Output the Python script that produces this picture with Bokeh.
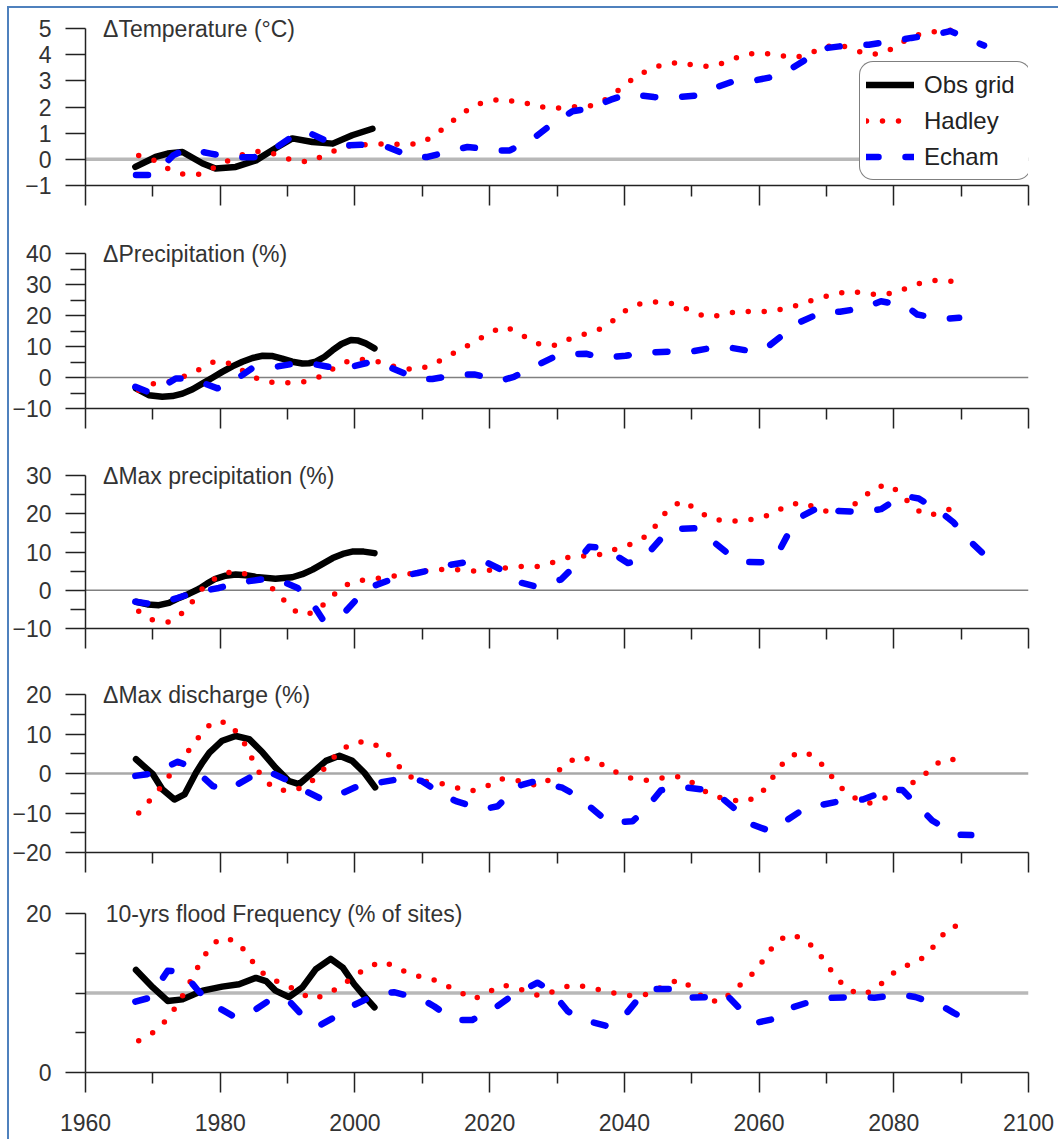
from bokeh.plotting import figure
from bokeh.models import (Range1d, FixedTicker, Label, Span, Legend, LegendItem, Column,
                          CustomLabelingPolicy)
from bokeh.embed import file_html
from bokeh.resources import INLINE

FONT = "Liberation Sans"

# ---------------- data (year, value) ----------------
x_major_ticks = [1960, 1980, 2000, 2020, 2040, 2060, 2080, 2100]
x_minor_ticks = [1970, 1990, 2010, 2030, 2050, 2070, 2090]

titles = ["\u0394Temperature (\u00b0C)", "\u0394Precipitation (%)", "\u0394Max precipitation (%)",
          "\u0394Max discharge (%)", "10-yrs flood Frequency (% of sites)"]
series_names = ["Obs grid", "Hadley", "Echam"]

obs_temp = [(1967.4, -0.29), (1970.4, 0.09), (1972.2, 0.22), (1974.4, 0.28), (1977.4, -0.16), (1979.3, -0.35),
            (1982.3, -0.29), (1985.3, -0.04), (1988.2, 0.42), (1990.7, 0.8), (1993.7, 0.66), (1996.7, 0.6),
            (1999.6, 0.92), (2002.6, 1.17)]
hadley_temp = [(1967.9, 0.15), (1970.2, -0.04), (1972.3, -0.36), (1974.5, -0.57), (1977, -0.57), (1979.3, -0.29),
               (1981.5, -0.01), (1983.7, 0.22), (1986, 0.32), (1988.4, 0.19), (1990.7, -0.04), (1993.2, -0.1),
               (1995.4, 0.15), (1997.7, 0.41), (2000, 0.56), (2002.6, 0.56), (2004.9, 0.6), (2007.3, 0.56),
               (2009.6, 0.6), (2011.9, 0.92), (2013.7, 1.3), (2015.7, 1.7), (2017.7, 2.06), (2020, 2.25),
               (2022.4, 2.29), (2024.6, 2.13), (2026.4, 2.13), (2028.3, 1.96), (2030.7, 1.96), (2033.1, 2.02),
               (2035.5, 2.06), (2037.6, 2.34), (2039.6, 2.74), (2041.5, 3.12), (2043.7, 3.44), (2046, 3.65),
               (2048.4, 3.71), (2050.7, 3.56), (2053.1, 3.55), (2055.5, 3.75), (2057.7, 4.0), (2060.2, 4.07),
               (2062.5, 4.0), (2065, 3.88), (2067.3, 4.0), (2069.4, 4.29), (2071.9, 4.38), (2074.3, 4.16),
               (2076.6, 4.0), (2078.9, 4.1), (2080.8, 4.42), (2083.1, 4.73), (2085.5, 4.86), (2087.8, 4.92),
               (2090.3, 4.96)]
echam_temp = [(1967.5, -0.6), (1970.2, -0.6), (1973, 0.15), (1975, 0.4), (1978.6, 0.22), (1981.4, 0.08),
              (1985, 0.08), (1987.3, 0.27), (1990.5, 0.84), (1992.5, 1.1), (1996.2, 0.65), (1998.4, 0.53),
              (2002.3, 0.57), (2004.8, 0.47), (2008.5, 0.09), (2010.8, 0.09), (2014.5, 0.34), (2016.7, 0.47),
              (2021.5, 0.34), (2023, 0.34), (2027.1, 0.92), (2029, 1.3), (2032.3, 1.84), (2034.8, 1.94),
              (2038, 2.28), (2040.5, 2.5), (2044.4, 2.38), (2046.6, 2.34), (2050.6, 2.44), (2052.6, 2.66),
              (2056.3, 2.99), (2058.8, 2.99), (2062.4, 3.17), (2064.5, 3.42), (2067.9, 3.97), (2070.2, 4.26),
              (2073.9, 4.38), (2076.3, 4.38), (2080.3, 4.54), (2082.6, 4.64), (2086.2, 4.77), (2088.4, 4.9),
              (2091.9, 4.51), (2093.4, 4.35)]

obs_precip = [(1967.5, -3.5), (1969.4, -5.7), (1971.4, -6.2), (1972.9, -6.0), (1974.4, -5.2), (1975.9, -3.8),
              (1977.4, -1.9), (1978.9, 0.0), (1980.3, 1.8), (1981.8, 3.6), (1983.3, 5.1), (1984.8, 6.3),
              (1986.3, 7.0), (1987.8, 6.9), (1989.2, 6.1), (1990.7, 5.1), (1992.2, 4.5), (1993.2, 4.6),
              (1994.2, 5.1), (1995.5, 6.7), (1996.7, 8.8), (1998, 10.8), (1999.4, 12.1), (2000.5, 11.9),
              (2001.6, 11), (2002.9, 9.4)]
hadley_precip = [(1967.9, -4.1), (1970.2, -1.9), (1972.4, -1.4), (1974.7, 0.4), (1977, 2.7), (1979.2, 5.3),
                 (1981.6, 4.5), (1983.7, 1.8), (1985.9, -0.8), (1988.2, -1.7), (1990.7, -1.7), (1993.1, -1.2),
                 (1995.4, 0.8), (1997.4, 3.8), (1999.6, 5.8), (2002.1, 5.8), (2004.5, 4.5), (2006.8, 2.9),
                 (2009.3, 2.6), (2011.5, 4), (2013.6, 6.7), (2015.8, 9.2), (2018, 11.8), (2020.2, 14.7),
                 (2022.4, 16.4), (2024.5, 14), (2027.5, 10.6), (2029.9, 10.4), (2032, 12.6), (2034.4, 14.2),
                 (2036.6, 15.8), (2038.6, 18.8), (2040.6, 22.3), (2042.8, 24.1), (2045.2, 24.4), (2047.6, 23.7),
                 (2049.9, 21.5), (2052.1, 19.6), (2054.5, 20.1), (2056.9, 21.4), (2059.3, 21.2), (2061.6, 21.4),
                 (2064.1, 22.3), (2066.5, 23.9), (2068.8, 25.5), (2071.2, 26.9), (2073.6, 27.9), (2075.8, 27.1),
                 (2078.2, 26.6), (2080.6, 27.6), (2082.9, 29.8), (2085.2, 31.2), (2087.6, 31.4), (2090.1, 30.3)]
echam_precip = [(1967.4, -3), (1969.9, -5.2), (1973.4, -0.3), (1975.6, -0.3), (1979.6, -3.5), (1981.8, -1.4),
                (1984.8, 3.1), (1987.3, 3.1), (1991, 4.5), (1993.5, 4.5), (1997.4, 2.9), (1999.6, 3.5),
                (2002.5, 5.1), (2005.6, 2.9), (2009.3, -0.5), (2011.5, -0.5), (2015.4, 1), (2017.7, 1),
                (2021.6, -1), (2023.6, 0.2), (2028.3, 5.3), (2030.3, 7.4), (2034.3, 7.7), (2036.5, 6.4),
                (2040.2, 7), (2042.5, 8), (2046.4, 8.3), (2048.9, 8), (2052.6, 9.4), (2055, 9.9), (2058.8, 8.5),
                (2061, 9.4), (2064.1, 14.7), (2065.9, 17.7), (2069.5, 21.2), (2072, 21.2), (2075.6, 22.5),
                (2078.1, 24.6), (2081.8, 23.1), (2083.5, 20.3), (2087.3, 18.8), (2089.7, 19.3)]

obs_maxprecip = [(1967.5, -3), (1969.2, -3.7), (1970.9, -3.9), (1972.4, -3.3), (1973.9, -2), (1975.4, -0.9),
                 (1976.9, 0.4), (1978.1, 1.8), (1979.3, 3), (1980.8, 3.8), (1982.3, 4.1), (1983.8, 3.9),
                 (1985.3, 3.5), (1988.2, 3), (1990.7, 3.4), (1992.2, 4.2), (1993.7, 5.4), (1995.2, 6.9),
                 (1996.7, 8.4), (1998.2, 9.5), (1999.6, 10.1), (2001.3, 10.1), (2002.9, 9.7)]
hadley_maxprecip = [(1967.9, -5.5), (1970, -7.8), (1972.3, -8.3), (1974.4, -5.9), (1976, -2.7), (1977.6, 1),
                    (1979.5, 3.4), (1981.7, 4.9), (1984.2, 4.1), (1986.2, 2.2), (1988.2, -0.1), (1989.9, -3.5),
                    (1991.7, -6.3), (1994, -5.9), (1995.8, -3), (1997.7, 0.2), (1999.6, 2.3), (2002.1, 2.8),
                    (2004.6, 3.4), (2007, 4), (2009.4, 4.7), (2011.8, 5.4), (2014.2, 5.5), (2016.5, 5.2),
                    (2018.9, 4.9), (2021.4, 5.6), (2023.9, 6.2), (2027.3, 6.2), (2029.7, 7.4), (2032, 8.8),
                    (2034.4, 9), (2036.8, 9.4), (2039.1, 11), (2041.4, 12.3), (2043.6, 14.5), (2045, 17.7),
                    (2046.5, 21.2), (2048.6, 23.4), (2050.6, 21.2), (2052.7, 18.8), (2055, 18.1), (2057.4, 18.1),
                    (2059.9, 18.8), (2062.2, 20.1), (2064.2, 22.3), (2066.7, 22.9), (2068.8, 21.2), (2071.2, 20.1),
                    (2073.5, 21.6), (2075.4, 24.2), (2077.3, 27), (2079.5, 27.5), (2081.4, 24.5), (2083.2, 21.2),
                    (2085.2, 19.5), (2087.6, 20.7), (2089.8, 22.3)]
echam_maxprecip = [(1967.4, -3), (1970.2, -3.7), (1973.7, -2), (1975.9, -0.7), (1979.8, 0.6), (1982.3, 1.9),
                   (1986, 2.8), (1988.5, 2.8), (1991.5, 0.6), (1993.5, -2.9), (1995.2, -7.6), (1998.2, -6.3),
                   (2000.9, -1.1), (2002.6, 1), (2006.6, 3.6), (2009.3, 4.5), (2011.5, 5.4), (2013.7, 6.5),
                   (2018.7, 8), (2021.7, 5.4), (2023.9, 2.3), (2026.8, 1), (2030.6, 2.8), (2032.3, 5.8),
                   (2034.8, 11.4), (2037, 11), (2040.5, 7.1), (2042.8, 8.2), (2045.4, 13.4), (2046.9, 16),
                   (2050.4, 16.2), (2052.3, 14), (2055.6, 9.3), (2057.3, 7.4), (2061.2, 7.3), (2062.8, 9.7),
                   (2064.7, 16), (2066.2, 19.2), (2069.5, 22.3), (2071.8, 20.7), (2075.6, 20.5), (2078.1, 21.2),
                   (2081.3, 24.7), (2083.7, 24), (2086.9, 20.5), (2088.9, 17.7), (2091.4, 12.7), (2093.2, 9.7)]

obs_discharge = [(1967.5, 3.6), (1970, -0.2), (1971.4, -4), (1973.2, -6.6), (1974.7, -5.3), (1976.4, 0.2),
                 (1977.4, 2.9), (1978.4, 5.3), (1980.3, 8.3), (1982.3, 9.5), (1984.3, 8.7), (1986.3, 5.3),
                 (1988.2, 1.5), (1990.2, -1.9), (1991.7, -2.7), (1993.7, 0.2), (1995.7, 3.2), (1997.7, 4.5),
                 (1999.6, 3.2), (2001.4, 0.2), (2003, -3.5)]
hadley_discharge = [(1967.9, -10), (1969.6, -6.7), (1971.2, -3.4), (1972.7, 0.05), (1974.2, 3.4), (1975.7, 6.6),
                    (1977.2, 10.1), (1978.9, 13.1), (1981.2, 12.9), (1982.9, 9.5), (1984.1, 6.2), (1985.1, 2.3),
                    (1986.3, -1.2), (1988.2, -4), (1990.5, -4.5), (1992.7, -3.2), (1994.6, -0.5), (1996.3, 3),
                    (1997.9, 6), (2000.1, 8), (2002.3, 8), (2004.5, 5.7), (2006.1, 2.6), (2007.8, -0.6),
                    (2010, -1.9), (2012.4, -2.3), (2014.7, -3.4), (2017.1, -4.5), (2019.4, -3.4), (2021.5, -1.3),
                    (2023.9, -1.7), (2027.3, -3.2), (2029.3, -1.1), (2031, 2.1), (2033.1, 4.2), (2035.4, 3.4),
                    (2037.6, 1.5), (2039.7, -0.6), (2042.1, -1.7), (2044.4, -1.7), (2046.7, -0.6), (2049.1, -1.1),
                    (2051, -3.4), (2053.1, -5.7), (2055.6, -6.6), (2057.9, -7.2), (2060.1, -5.5), (2061.6, -2.1),
                    (2063, 1.5), (2064.6, 4.5), (2066.9, 5.5), (2068.9, 3.2), (2070.5, -0.2), (2072, -3.4),
                    (2074, -6), (2076.2, -7.6), (2078.5, -6.4), (2080.5, -4.5), (2082.5, -2.7), (2084.5, -0.4),
                    (2086.3, 2.5), (2088.6, 3.8), (2090.4, 0.9)]
echam_discharge = [(1967.4, -0.6), (1970, 0), (1973.7, 3), (1975.9, 1.5), (1978.9, -3.2), (1981.1, -4.2),
                   (1984.5, -0.9), (1986.8, 0.8), (1989.7, -1.5), (1991.7, -3.6), (1995.2, -6.6), (1997.7, -5.3),
                   (2001.1, -2.7), (2003.6, -2.3), (2007.6, -1.1), (2009.9, -1.9), (2013, -5.3), (2015, -7),
                   (2018.9, -9.1), (2021.2, -8.3), (2024.1, -3.2), (2026.9, -1.9), (2030.8, -3.6), (2032.8, -5.5),
                   (2036, -10), (2037.8, -12.5), (2041.2, -12.1), (2042.9, -9.5), (2045.4, -4.3), (2047.6, -3.2),
                   (2051.4, -4), (2053.7, -5.1), (2056.8, -9.5), (2058.3, -12.5), (2061.5, -14.5), (2063.5, -12.5),
                   (2066.9, -8.7), (2069.1, -8), (2072.9, -6.7), (2075.4, -6.6), (2079.1, -4.2), (2081.3, -4.2),
                   (2084.1, -9.1), (2085.7, -11.9), (2089.3, -15.5), (2091.5, -15.6)]

obs_flood = [(1967.5, 12.9), (1970, 10.7), (1972.2, 9), (1974.4, 9.2), (1977.4, 10.3), (1980.3, 10.8),
             (1982.8, 11.1), (1985.3, 11.9), (1986.8, 11.5), (1988.2, 10.3), (1990.2, 9.5), (1992.2, 10.7),
             (1994.2, 13), (1996.4, 14.3), (1998.2, 13.2), (1999.9, 11.1), (2001.4, 9.6), (2002.9, 8.2)]
hadley_flood = [(1967.9, 4), (1970, 5), (1971.9, 6.5), (1973.3, 8.1), (1974.6, 9.9), (1975.7, 11.7),
                (1976.9, 13.6), (1978.2, 15.4), (1979.9, 16.9), (1982.2, 16.6), (1984, 15), (1985.3, 13.3),
                (1987.1, 11.9), (1989.3, 11.2), (1991.4, 10.3), (1993.6, 9.2), (1995.8, 9.8), (1998, 10.9),
                (2000, 12.2), (2002, 13.3), (2004.2, 14), (2006.4, 13.1), (2008.7, 12.2), (2011, 11.9),
                (2013.2, 11.1), (2015.4, 10.2), (2017.6, 9.2), (2019.8, 10.1), (2021.9, 11), (2024.1, 10.6),
                (2027.5, 9.6), (2029.9, 10.3), (2032, 11), (2034.4, 10.8), (2036.8, 10.3), (2039.1, 9.9),
                (2041.4, 9.6), (2043.9, 9.9), (2046, 11), (2048.3, 11.7), (2050.3, 10.5), (2052.1, 9.1),
                (2054.4, 8.9), (2056.3, 10.4), (2058.2, 11.7), (2059.9, 13.2), (2061.2, 14.9), (2062.8, 16.6),
                (2064.8, 17.4), (2067, 16.6), (2068.8, 15.1), (2070.2, 13.4), (2071.7, 11.7), (2073.5, 10.3),
                (2075.5, 9.8), (2077.6, 10.7), (2079.4, 12.2), (2081.4, 13.3), (2083.7, 14), (2085.5, 15.4),
                (2087, 17.1), (2088.9, 18.5), (2090.9, 17.7)]
echam_flood = [(1967.4, 8.9), (1969.5, 9.4), (1972.2, 12.8), (1974.4, 12.7), (1976.6, 10.4), (1978.6, 8.7),
               (1982.1, 7), (1984.3, 7.4), (1987.5, 9.2), (1990, 9.2), (1992.5, 6.9), (1994.7, 5.9),
               (1997.9, 7.4), (1999.9, 8.5), (2003.4, 9.9), (2005.8, 10.1), (2010, 9.2), (2011.8, 8.3),
               (2014.7, 6.6), (2017.4, 6.6), (2020.9, 8.2), (2022.9, 9.4), (2027.1, 11.3), (2029.1, 10.3),
               (2031.6, 7.7), (2033.6, 6.7), (2037.2, 5.9), (2039.5, 6.6), (2042, 9.2), (2043.7, 10.5),
               (2047.4, 10.5), (2049.1, 9.4), (2052.8, 9.5), (2055, 9.9), (2058, 7.3), (2059.8, 6.3),
               (2063.2, 6.9), (2065, 8.2), (2068.7, 9.2), (2070.9, 9.4), (2074.8, 9.5), (2077.1, 9.4),
               (2081, 9.8), (2083.2, 9.5), (2087.1, 8.4), (2088.9, 7.5), (2092.9, 5.8)]

# y-axis settings per panel
y_limits = [(-1, 5), (-10, 40), (-10, 30), (-20, 20), (0, 20)]
y_major = [[-1, 0, 1, 2, 3, 4, 5], [-10, 0, 10, 20, 30, 40], [-10, 0, 10, 20, 30],
           [-20, -10, 0, 10, 20], [0, 20]]
y_minor = [[], [-5, 5, 15, 25, 35], [-5, 5, 15, 25], [-15, -5, 5, 15], [5, 10, 15]]
ref_values = [0, 0, 0, 0, 10]

# ---------------- styling ----------------
HEAD = 13                                   # px of frame kept above the top tick for the panel title
frame_heights = [170, 168, 166, 171, 172]   # includes HEAD
top_borders = [7, 10, 12, 11, 10]
bottom_borders = [45, 42, 42, 38, 67]
ref_styles = [("#b8b8b8", 3.5), ("#808080", 1.5), ("#808080", 1.5), ("#a8a8a8", 2.5), ("#b8b8b8", 3.5)]
minor_out = [0, 15, 15, 15, 10]
TEXT = "#333333"
AXIS = "#222222"

hide_labels = CustomLabelingPolicy(code="for (const i of indices) { indices.unset(i) } return indices")


def split(pairs):
    return [a for a, _ in pairs], [b for _, b in pairs]


panel_data = [(obs_temp, hadley_temp, echam_temp), (obs_precip, hadley_precip, echam_precip),
              (obs_maxprecip, hadley_maxprecip, echam_maxprecip),
              (obs_discharge, hadley_discharge, echam_discharge), (obs_flood, hadley_flood, echam_flood)]

figs = []
for i in range(5):
    y0, y1 = y_limits[i]
    fh = frame_heights[i]
    head = HEAD * (y1 - y0) / (fh - HEAD)
    p = figure(frame_width=943, frame_height=fh,
               x_range=Range1d(1960, 2100), y_range=Range1d(y0, y1 + head),
               output_backend="svg", toolbar_location=None,
               min_border_left=74, min_border_right=30,
               min_border_top=top_borders[i], min_border_bottom=bottom_borders[i],
               outline_line_color=None, background_fill_color="white", border_fill_color="white")
    p.grid.visible = False

    xa = p.xaxis[0]
    xa.ticker = FixedTicker(ticks=x_major_ticks, minor_ticks=x_minor_ticks)
    xa.major_tick_out = 20
    xa.major_tick_in = 0
    xa.minor_tick_out = 11
    xa.minor_tick_in = 0
    xa.axis_line_color = AXIS
    xa.axis_line_width = 1.5
    xa.major_tick_line_color = AXIS
    xa.major_tick_line_width = 1.5
    xa.minor_tick_line_color = AXIS
    xa.minor_tick_line_width = 1.5
    if i == 4:
        xa.major_label_text_font = FONT
        xa.major_label_text_font_size = "23px"
        xa.major_label_text_color = TEXT
        xa.major_label_standoff = 21
    else:
        xa.major_label_policy = hide_labels
        xa.major_label_text_font_size = "2px"
        xa.major_label_standoff = 0

    ya = p.yaxis[0]
    ya.bounds = (y0, y1)
    ya.ticker = FixedTicker(ticks=y_major[i], minor_ticks=y_minor[i])
    ya.major_tick_out = 20
    ya.major_tick_in = 0
    ya.minor_tick_out = minor_out[i]
    ya.minor_tick_in = 0
    ya.axis_line_color = AXIS
    ya.axis_line_width = 1.5
    ya.major_tick_line_color = AXIS
    ya.major_tick_line_width = 1.5
    ya.minor_tick_line_color = AXIS
    ya.minor_tick_line_width = 1.5
    ya.major_label_text_font = FONT
    ya.major_label_text_font_size = "23px"
    ya.major_label_text_color = TEXT
    ya.major_label_standoff = 14

    rc, rw = ref_styles[i]
    p.add_layout(Span(location=ref_values[i], dimension="width", line_color=rc,
                      line_width=rw, level="underlay"))

    obs, had, ech = panel_data[i]
    ox, oy = split(obs)
    hx, hy = split(had)
    ex, ey = split(ech)
    r_obs = p.line(ox, oy, line_color="black", line_width=6.5, line_cap="round", line_join="round")
    r_had = p.line(hx, hy, line_color="#ff0000", line_width=5.5, line_dash="0 16",
                   line_cap="round", line_join="round")
    r_ech = p.line(ex, ey, line_color="#0000ff", line_width=6.5, line_dash="12 27",
                   line_cap="round", line_join="round")

    p.add_layout(Label(x=1962.6 if i < 4 else 1963.0, y=y1, text=titles[i], text_baseline="middle",
                       text_align="left", text_font=FONT, text_font_size="23px", text_color=TEXT))

    if i == 0:
        legend = Legend(items=[LegendItem(label=series_names[0], renderers=[r_obs]),
                               LegendItem(label=series_names[1], renderers=[r_had]),
                               LegendItem(label=series_names[2], renderers=[r_ech])],
                        location=(774, 5),
                        label_text_font=FONT, label_text_font_size="24px", label_text_color="#222222",
                        glyph_width=48, glyph_height=33, label_height=33, label_width=100,
                        label_standoff=10, padding=6, spacing=3, margin=0,
                        border_line_color="black", border_line_width=1.5,
                        background_fill_color="white", background_fill_alpha=1.0)
        if "border_radius" in Legend.properties():
            legend.border_radius = 14
        p.add_layout(legend)
    figs.append(p)

layout = Column(children=figs, spacing=0,
                styles={"margin-left": "7px", "margin-top": "6px",
                        "border-left": "2px solid #4f81bd", "border-top": "2px solid #4f81bd"})

open("out.html", "w").write(file_html(layout, INLINE))
